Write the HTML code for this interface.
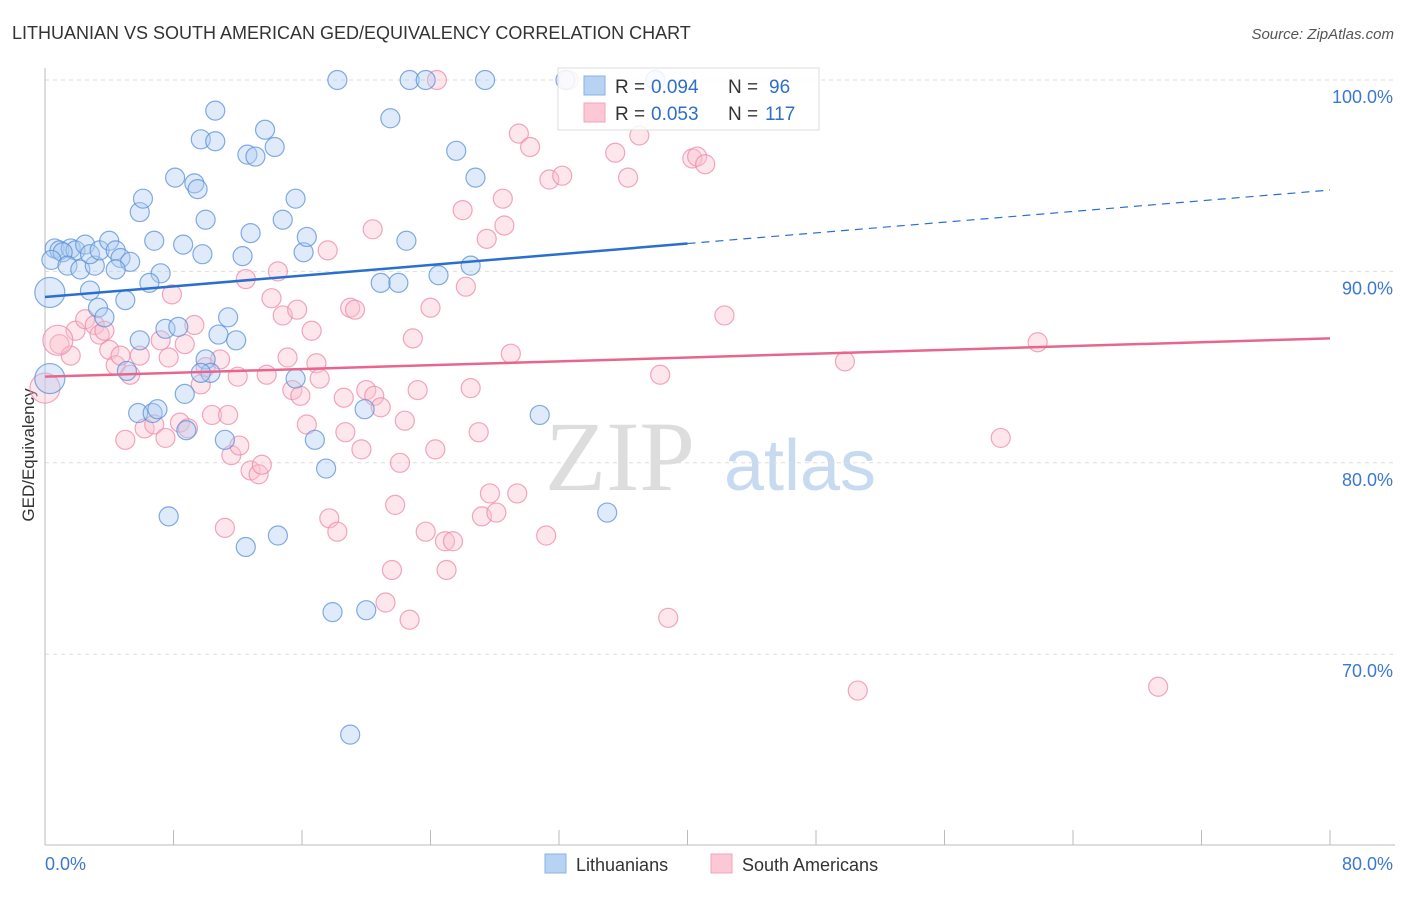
<!DOCTYPE html>
<html><head><meta charset="utf-8"><style>
body{margin:0;background:#fff;font-family:"Liberation Sans",sans-serif;}
</style></head><body>
<svg id="c" width="1406" height="892" xmlns="http://www.w3.org/2000/svg">
<text x="12" y="39" font-size="18" fill="#333">LITHUANIAN VS SOUTH AMERICAN GED/EQUIVALENCY CORRELATION CHART</text>
<text x="1394" y="39" font-size="15" fill="#555" font-style="italic" text-anchor="end">Source: ZipAtlas.com</text>
<text x="620" y="490" font-size="100" fill="#ddd" font-family="Liberation Serif,serif" text-anchor="middle">ZIP</text>
<text x="800" y="490" font-size="72" fill="#c8daf0" text-anchor="middle">atlas</text>
<text transform="translate(34,455) rotate(-90)" font-size="17" fill="#333" text-anchor="middle">GED/Equivalency</text>
<g id="grid"></g><g id="pts"></g><g id="lines"></g>
<g>
<rect x="558" y="68" width="261" height="62" fill="#fff" fill-opacity="0.85" stroke="#ddd"/>
<rect x="584" y="76" width="21" height="19" fill="#b8d2f4" stroke="#8ab2e6"/>
<rect x="584" y="103" width="21" height="19" fill="#fcc8d6" stroke="#f2a4ba"/>
<text x="615" y="93" font-size="19" fill="#333">R =</text>
<text x="651" y="93" font-size="19" fill="#2f6fc9">0.094</text>
<text x="728" y="93" font-size="19" fill="#333">N =</text>
<text x="769" y="93" font-size="19" fill="#2f6fc9">96</text>
<text x="615" y="120" font-size="19" fill="#333">R =</text>
<text x="651" y="120" font-size="19" fill="#2f6fc9">0.053</text>
<text x="728" y="120" font-size="19" fill="#333">N =</text>
<text x="765" y="120" font-size="19" fill="#2f6fc9">117</text>
</g>
<g>
<rect x="545" y="854" width="21" height="19" fill="#b8d2f4" stroke="#8ab2e6"/>
<text x="576" y="871" font-size="18" fill="#333">Lithuanians</text>
<rect x="711" y="854" width="21" height="19" fill="#fcc8d6" stroke="#f2a4ba"/>
<text x="742" y="871" font-size="18" fill="#333">South Americans</text>
</g>
</svg>
<script>
const blueX=[0.6,0.9,1.6,1.9,2.5,1.1,0.4,1.4,2.2,3.1,2.8,3.4,4.0,4.4,4.7,5.3,4.4,2.8,3.3,3.7,5.0,5.9,6.1,6.8,7.2,6.5,5.9,7.5,8.3,8.7,9.3,9.5,9.7,10.0,10.6,10.6,8.1,8.6,9.8,10.0,10.3,10.8,11.4,11.9,12.3,12.6,13.1,12.8,13.7,14.3,14.8,15.6,16.1,16.3,15.6,16.8,17.5,17.9,18.2,19.0,19.9,20.0,20.9,21.5,22.0,22.5,22.7,23.7,24.5,25.6,26.5,26.8,27.4,30.8,32.4,35.0,38.0,5.8,6.7,7.0,7.7,8.8,11.2,12.5,14.5,5.1,9.7];
const blueY=[91.2,91.1,91.2,91.1,91.4,91.0,90.6,90.3,90.1,90.3,90.9,91.1,91.6,91.1,90.7,90.5,90.1,89.0,88.1,87.6,88.5,93.1,93.8,91.6,89.9,89.4,86.4,87.0,87.1,83.6,94.6,94.3,96.9,92.7,96.8,98.4,94.9,91.4,90.9,85.4,84.7,86.7,87.6,86.4,90.8,96.1,96.0,92.0,97.4,96.5,92.7,93.8,91.0,91.8,84.4,81.2,79.7,72.2,100,65.8,82.8,72.3,89.4,98.0,89.4,91.6,100,100,89.8,96.3,90.3,94.9,100,82.5,100,77.4,100,82.6,82.6,82.8,77.2,81.7,81.2,75.6,76.2,84.8,84.7];
const blueBigX=[0.3,0.3], blueBigY=[88.9,84.4];
const pinkX=[0.9,1.6,1.9,2.5,3.1,3.4,3.7,4.0,4.4,4.7,5.0,5.3,5.9,6.2,6.8,7.2,7.5,7.7,7.9,8.4,8.7,8.9,9.3,9.7,10.0,10.4,10.9,11.2,11.4,11.6,12.0,12.1,12.5,12.8,13.3,13.5,13.8,14.1,14.5,14.8,15.1,15.4,15.7,15.9,16.3,16.6,16.9,17.1,17.6,17.7,18.2,18.6,18.7,19.0,19.3,19.7,20.0,20.4,20.5,20.9,21.6,21.2,21.8,22.1,22.4,22.7,22.9,23.2,23.7,24.0,24.3,24.4,24.9,25.0,25.4,26.0,26.2,26.5,27.0,27.2,27.5,27.7,28.1,28.5,28.6,29.0,29.4,29.5,30.2,31.2,31.4,32.2,32.6,35.5,36.3,37.0,38.3,38.8,40.3,40.6,41.1,42.3,49.8,50.6,59.5,61.8,69.3];
const pinkY=[86.2,85.6,86.9,87.5,87.2,86.7,86.9,85.9,85.1,85.6,81.2,84.6,85.6,81.8,82.0,86.4,81.3,85.5,88.8,82.1,86.2,81.8,87.2,84.1,85.0,82.5,85.4,76.6,82.5,80.4,84.5,80.9,89.6,79.6,79.4,79.9,84.6,88.6,90.0,87.7,85.5,83.8,88.0,83.5,82.0,86.9,85.2,84.4,91.1,77.1,76.4,83.4,81.6,88.1,88.0,80.7,83.8,92.2,83.5,82.9,74.4,72.7,77.8,80.0,82.2,71.8,86.5,83.8,76.4,88.1,80.7,100,75.9,74.4,75.9,93.2,89.2,83.9,81.6,77.2,91.7,78.4,77.4,93.8,92.4,85.7,78.4,97.2,96.5,76.2,94.8,95.0,100,96.2,94.9,97.1,84.6,71.9,95.9,96.0,95.6,87.7,85.3,68.1,81.3,86.3,68.3];
const pinkBigX=[0.8,0], pinkBigY=[86.4,83.9];
const blueTrend=[88.66,94.25], pinkTrend=[84.5,86.5];
const yTicks=[100,90,80,70], yTickLabels=["100.0%","90.0%","80.0%","70.0%"];
const xTickLabels=["0.0%","80.0%"];
const NS='http://www.w3.org/2000/svg';
const sx=v=>45+v*1285/80, sy=v=>80+(100-v)*19.14;
function mk(t,a,p){const e=document.createElementNS(NS,t);for(const k in a)e.setAttribute(k,a[k]);p.appendChild(e);return e;}
const svg=document.getElementById('c'),grid=document.getElementById('grid'),pts=document.getElementById('pts'),lines=document.getElementById('lines');
yTicks.forEach((t,i)=>{
 const l=mk('line',{x1:45,x2:1395,y1:sy(t),y2:sy(t),stroke:'#ddd','stroke-dasharray':'4,4'},grid);
 
 
 const tx=mk('text',{x:1393,y:sy(t)+23,'font-size':18,fill:'#3b78d0','text-anchor':'end'},svg);
 tx.textContent=yTickLabels[i];
 
 
});
const ax=mk('line',{x1:45,x2:45,y1:68,y2:845,stroke:'#bbb'},grid);


const bx=mk('line',{x1:45,x2:1395,y1:845,y2:845,stroke:'#bbb'},grid);


for(let i=0;i<=10;i++){const t=mk('line',{x1:sx(i*8),x2:sx(i*8),y1:830,y2:845,stroke:'#bbb'},grid);
 
 }
[[0,'start'],[80,'end']].forEach(([v,a],i)=>{const t=mk('text',{x:v==0?45:1393,y:870,'font-size':18,fill:'#3b78d0','text-anchor':a},svg);t.textContent=xTickLabels[i];
 
 });
function dots(X,Y,r,fill,stroke,name){X.forEach((x,i)=>{const c=mk('circle',{cx:sx(x),cy:sy(Y[i]),r:r,fill:fill,'fill-opacity':0.4,stroke:stroke,'stroke-opacity':0.75,'stroke-width':1.2},pts);
 
 });}
dots(pinkX,pinkY,9.5,'#f9c0d0','#ee8aa8','south-american-point');
dots(pinkBigX,pinkBigY,15,'#f9c0d0','#ee8aa8','south-american-point');
dots(blueX,blueY,9.5,'#b0cdf2','#5a90d8','lithuanian-point');
dots(blueBigX,blueBigY,15,'#b0cdf2','#5a90d8','lithuanian-point');
const bm=blueTrend[0]+(blueTrend[1]-blueTrend[0])*0.5;
let l=mk('line',{x1:sx(0),y1:sy(blueTrend[0]),x2:sx(40),y2:sy(bm),stroke:'#2a6fd0','stroke-width':2.5},lines);


l=mk('line',{x1:sx(40),y1:sy(bm),x2:sx(80),y2:sy(blueTrend[1]),stroke:'#2a6fd0','stroke-width':1.2,'stroke-dasharray':'8,6'},lines);


l=mk('line',{x1:sx(0),y1:sy(pinkTrend[0]),x2:sx(80),y2:sy(pinkTrend[1]),stroke:'#e8668e','stroke-width':2.5},lines);


</script>
</body></html>
